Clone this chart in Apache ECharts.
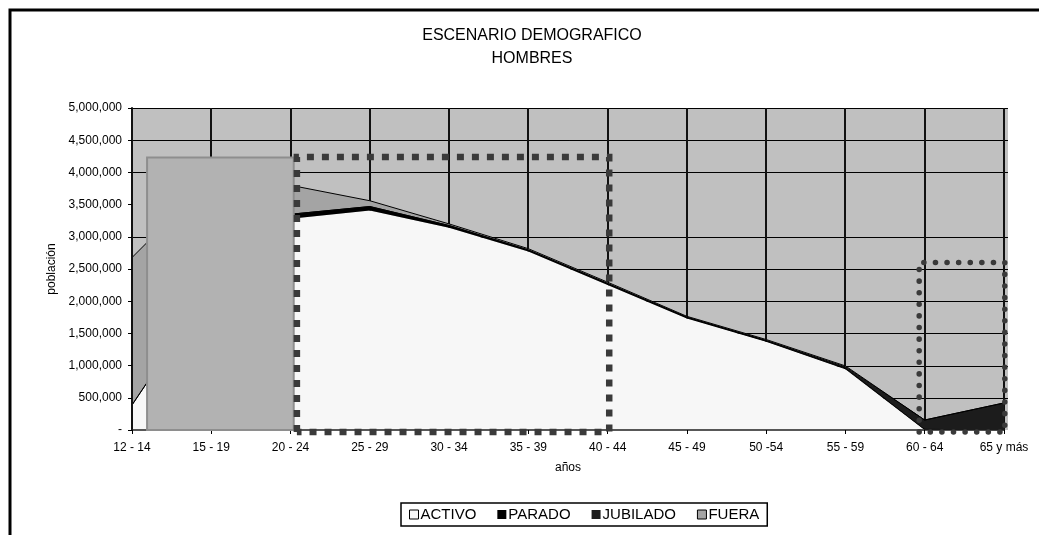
<!DOCTYPE html>
<html>
<head>
<meta charset="utf-8">
<script src="https://cdn.jsdelivr.net/npm/echarts@6/dist/echarts.min.js"></script>
<style>
html,body{margin:0;padding:0;background:#fff;}
#chart{width:1039px;height:535px;}
</style>
</head>
<body>
<div id="chart"></div>
<script>
// ---- data ----
const categories = ['12 - 14','15 - 19','20 - 24','25 - 29','30 - 34','35 - 39','40 - 44','45 - 49','50 -54','55 - 59','60 - 64','65 y más'];
const activo   = [388000, 2220000, 3280000, 3410000, 3140000, 2770000, 2250000, 1730000, 1370000, 945000, 0, 0];
const parado   = [0, 0, 70000, 60000, 35000, 25000, 25000, 20000, 15000, 15000, 10000, 0];
const jubilado = [0, 0, 0, 0, 0, 0, 0, 0, 5000, 20000, 145000, 420000];
const fuera    = [2290000, 1690000, 450000, 90000, 25000, 20000, 20000, 15000, 15000, 15000, 0, 0];
const seriesNames = ['ACTIVO','PARADO','JUBILADO','FUERA'];
const gridValues = [500000, 1000000, 1500000, 2000000, 2500000, 3000000, 4000000, 4500000, 5000000];
const titleText = 'ESCENARIO DEMOGRAFICO\nHOMBRES';
const yName = 'población';
const xName = 'años';

// ---- styling / annotation geometry (in data space of hidden value axis 0..11) ----
const FONT = "'Liberation Sans', Arial, sans-serif";
const colors = {ACTIVO:'#f7f7f7', PARADO:'#000000', JUBILADO:'#1c1c1c', FUERA:'#a4a4a4'};
const grayBox = {x0:0.19, x1:2.04, top:4230000, bottom:0};
const dotBox1 = {x0:2.08, x1:6.02, top:4240000, bottom:-30000};
const dotBox2 = {x0:9.93, x1:11.01, top:2600000, bottom:-30000};
const bgExtra = 11.05;

const chart = echarts.init(document.getElementById('chart'));

function frameRender(params, api){
  const cs = params.coordSys;
  const right = api.coord([bgExtra, 0])[0];
  const ch = [{type:'rect', shape:{x:cs.x, y:cs.y, width:right-cs.x, height:cs.height}, style:{fill:'#c0c0c0'}}];
  gridValues.forEach(v=>{
    const y = Math.round(api.coord([0, v])[1]) + 0.5;
    ch.push({type:'line', shape:{x1:cs.x, y1:y, x2:right, y2:y}, style:{stroke:'#000', lineWidth:1}});
  });
  categories.forEach((c,i)=>{
    const x = Math.round(api.coord([i, 0])[0]);
    ch.push({type:'line', shape:{x1:x, y1:cs.y, x2:x, y2:cs.y+cs.height}, style:{stroke:'#111', lineWidth:2}});
  });
  return {type:'group', children:ch};
}

function boxPoints(api, b){
  const p1 = api.coord([b.x0, b.bottom]);
  const p2 = api.coord([b.x0, b.top]);
  const p3 = api.coord([b.x1, b.top]);
  const p4 = api.coord([b.x1, b.bottom]);
  return [p1,p2,p3,p4,p1];
}

function shapesRender(params, api){
  const g1 = api.coord([grayBox.x0, grayBox.top]);
  const g2 = api.coord([grayBox.x1, grayBox.bottom]);
  return {type:'group', children:[
    {type:'rect', shape:{x:g1[0], y:g1[1], width:g2[0]-g1[0], height:g2[1]-g1[1]},
      style:{fill:'#b2b2b2', stroke:'#8e8e8e', lineWidth:2}},
    {type:'polyline', shape:{points:boxPoints(api, dotBox1)},
      style:{fill:null, stroke:'#3a3a3a', lineWidth:6.5, lineDash:[7,8], lineCap:'butt'}},
    {type:'polyline', shape:{points:boxPoints(api, dotBox2)},
      style:{fill:null, stroke:'#3a3a3a', lineWidth:5.5, lineDash:[0.1,11.5], lineCap:'round'}}
  ]};
}

const areaSeries = [activo, parado, jubilado, fuera].map((d,i)=>{
  const n = seriesNames[i];
  return {
    name:n, type:'line', stack:'total', data:d, xAxisIndex:0, yAxisIndex:0,
    symbol:'none', showSymbol:false, z:3,
    color: colors[n],
    areaStyle:{color:colors[n], opacity:1},
    lineStyle: n==='ACTIVO' ? {width:0} : {color:'#000', width:1}
  };
});

const option = {
  backgroundColor:'#ffffff',
  animation:false,
  title:{
    text:titleText, left:527, top:19, textAlign:'center',
    textStyle:{fontFamily:FONT, fontSize:16, fontWeight:'normal', color:'#000', lineHeight:23}
  },
  legend:{
    left:401, top:503,
    data: seriesNames.map(n=>({name:n, icon:'rect',
      itemStyle:{color:colors[n], borderColor:'#000', borderWidth: (n==='ACTIVO'||n==='FUERA')?1:0}})),
    itemWidth:9, itemHeight:9, itemGap:21,
    borderColor:'#000', borderWidth:1.5, borderRadius:0, padding:[4,8],
    textStyle:{fontFamily:FONT, fontSize:15, color:'#000', padding:[0,0,0,-3]},
    selectedMode:false
  },
  grid:{left:132, right:35, top:108, bottom:105, containLabel:false},
  xAxis:[
    {type:'category', data:categories, boundaryGap:false, z:10,
      name:xName, nameLocation:'middle', nameGap:32,
      nameTextStyle:{fontFamily:FONT, fontSize:12, color:'#000'},
      axisLine:{lineStyle:{color:'#222', width:1.5}},
      axisTick:{show:true, length:4, alignWithLabel:true, lineStyle:{color:'#000'}},
      axisLabel:{fontFamily:FONT, fontSize:12, color:'#000', margin:12, interval:0},
      splitLine:{show:false}},
    {type:'value', min:0, max:11, show:false}
  ],
  yAxis:{
    type:'value', min:0, max:5000000, interval:500000, z:10,
    name:yName, nameLocation:'middle', nameRotate:90, nameGap:60,
    nameTextStyle:{fontFamily:FONT, fontSize:12, color:'#000'},
    axisLine:{show:true, lineStyle:{color:'#111', width:2}},
    axisTick:{show:true, length:4, lineStyle:{color:'#000'}},
    axisLabel:{fontFamily:FONT, fontSize:12, color:'#000', margin:10,
      formatter:v=> v===0 ? '-' : v.toLocaleString('en-US')},
    splitLine:{show:false}
  },
  graphic:[{type:'rect', shape:{x:10, y:10, width:1100, height:600}, style:{fill:null, stroke:'#000', lineWidth:3}, z:100}],
  series:[
    {type:'custom', name:'frame', xAxisIndex:1, yAxisIndex:0, data:[[0,0]], renderItem:frameRender, z:1, silent:true},
    ...areaSeries,
    {type:'custom', name:'shapes', xAxisIndex:1, yAxisIndex:0, data:[[0,0]], renderItem:shapesRender, z:20, clip:false, silent:true}
  ]
};
chart.setOption(option);
</script>
</body>
</html>
